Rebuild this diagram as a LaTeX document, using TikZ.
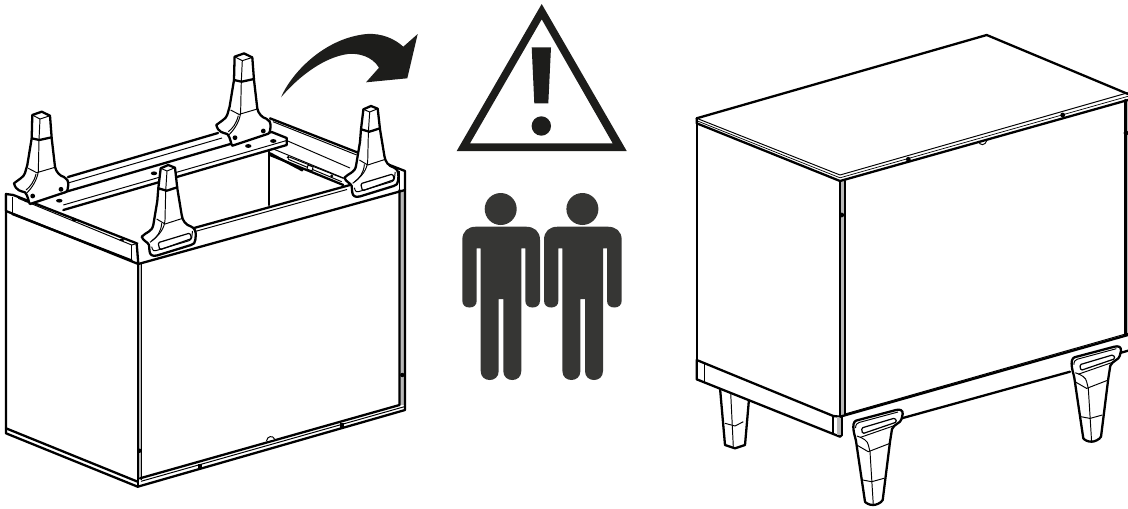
\documentclass[tikz,border=0pt]{standalone}

\definecolor{signblack}{HTML}{1D1D1B}
\definecolor{figuregray}{HTML}{363634}
\tikzset{
    heavyline/.style={line width=1.3pt, line join=round, line cap=round},
    lightline/.style={line width=0.55pt, line join=round},
    slotline/.style={line width=0.7pt, rounded corners=0.8pt, line join=round},
    holedot/.style={fill=black, draw=none},
}

\begin{document}
\begin{tikzpicture}[x=0.02cm, y=-0.02cm]
        \useasboundingbox (0,0) rectangle (1128,508);

        % skrin nohama nahoru
        \fill[gray!55] (137.5,264) rectangle (141.5,480);
        \fill[gray!55] (399.5,190) rectangle (405,405);
        \draw[heavyline] (6,194) -- (6,433.3) -- (137.7,486.7) -- (405,410) -- (405,171) -- (270,118.3);
        \draw[heavyline] (6,428.3) -- (137.7,481.7);
        \draw[heavyline] (137.7,264) -- (137.7,486.7);
        \draw[lightline] (141.5,264) -- (141.5,480);
        \draw[heavyline] (399.5,190) -- (399.5,405) -- (140,478.3);
        \draw[lightline] (141,481.3) -- (405,406.5);
        \fill[holedot] (198,464) rectangle (202,468.5);
        \fill[holedot] (340.3,423) rectangle (344.3,427.5);
        \filldraw[lightline, fill=white] (266.5,441) .. controls (267,436) and (273,435) .. (274.5,439);
        \fill[holedot] (139.5,450.7) circle (2.2);
        \fill[holedot] (402.3,375) circle (2.2);

        % vnitrek a lista
        \draw[heavyline] (269,151.7) -- (269,205);
        \draw[lightline] (270,118.3) -- (270,133.3) -- (350,168);
        \draw[lightline] (273,121.7) -- (356.7,155);
        \draw[heavyline] (270,155) -- (343.3,185);
        \draw[lightline] (271.7,148.3) -- (348.3,180);
        \draw[lightline] (290,157.3) -- (343.3,178.3);
        \draw[lightline] (288.3,159.3) -- (341.7,181.7);
        \draw[heavyline] (270,153.3) -- (301.7,170);
        \foreach \sx/\sy in {288.3/157.3, 311.7/168.3, 331.7/176, 302/170}
            \fill[holedot] (\sx,\sy) circle (1.6);
        \draw[lightline, fill=white] (308,165) -- (313,167) -- (312,171) -- (307,169) -- cycle;

        % zadni prkno
        \draw[heavyline] (68,177) -- (218,133);
        \draw[lightline] (68,183) -- (222,138);
        \draw[heavyline, fill=white] (40,199.3) -- (271.7,132) -- (286.7,138) -- (286.7,145) -- (63.3,210);
        \draw[lightline] (286.7,140.5) -- (63.3,205);
        \foreach \hx/\hy in {59.3/200.7, 154/173.3, 248.3/146, 273.3/141}
            \fill[holedot] (\hx,\hy) ellipse (3.2 and 1.9);

        % okraje
        \draw[heavyline] (194,228) -- (350,185);
        \draw[lightline] (195,231.5) -- (347,189.5);
        \draw[heavyline, fill=white] (13.3,195) -- (136.7,243.3) -- (138.3,264) -- (6,211) -- (6,194) -- cycle;
        \draw[lightline] (18.3,198.3) -- (131.7,245);
        \draw[lightline] (12.3,196.7) -- (12.3,215);
        \draw[lightline] (131.7,245) -- (131.7,260) ;
        \draw[heavyline] (12.3,214) -- (131.7,260.5);
        \draw[lightline] (131.7,245) -- (138.3,243);
        \draw[heavyline] (138.3,264) -- (405,190);
        \draw[lightline] (399.5,171) -- (399.5,190);
        \foreach \hx/\hy in {26.7/201, 74/220, 121.7/240}
            \fill[holedot] (\hx,\hy) ellipse (2.4 and 1.2);

        % zadni nohy
        \foreach \dx/\dy in {0/0, 202.3/-58.3} {
            \begin{scope}[shift={(\dx,\dy)}]
                \draw[heavyline, fill=white] (32.3,115) -- (41.7,111.7) -- (50,115.7) -- (51.7,138.3) -- (55,166.7)
                    .. controls (56,172) and (60,176) .. (64,177) .. controls (67,178) and (68.3,181) .. (68.3,185)
                    -- (67.5,190) -- (66,192) -- (30,204)
                    .. controls (28.5,203) and (28.5,196) .. (25,192.3)
                    .. controls (21,191) and (16,191) .. (14,183.3)
                    .. controls (18,180) and (24,177) .. (25,173) -- (27.3,165) -- (31.7,138.3) -- cycle;
                \draw[lightline] (32.3,115) -- (40,119) -- (50,115.7);
                \draw[heavyline] (31.7,138.3) -- (39.3,140) -- (51.7,137.3);
                \draw[lightline] (40,119) -- (39,140) -- (38.3,171.7) .. controls (37,180) and (32,188) .. (26.7,193);
                \draw[lightline] (28.3,168.3) -- (36.7,172.7) -- (55,167.3);
                \draw[lightline] (36,174) .. controls (34,182) and (30,187) .. (26,190);
                \fill[holedot] (61,189.3) circle (2.4);
                \fill[holedot] (32.7,196) circle (2.4);
            \end{scope}
        }

        % predni nohy
        \foreach \dx/\dy in {0/0, 202.7/-59} {
            \begin{scope}[shift={(\dx,\dy)}]
                \draw[heavyline, fill=white] (160.7,168.3) -- (168.3,165) -- (175,167.7) -- (177.3,188.3) -- (181.7,215)
                    .. controls (182.5,221) and (186,225) .. (191,226.5) .. controls (195,228) and (196,232) .. (195.7,236)
                    -- (195.3,240) .. controls (195,243) and (194,244) .. (191,245) -- (157,255.5)
                    .. controls (152,256.5) and (150,255) .. (149.5,251) -- (149,245)
                    .. controls (148,242) and (143,241) .. (141.7,236.7)
                    .. controls (146,232) and (152,232) .. (153.3,225) -- (157.3,201) -- (158.3,188.3) -- cycle;
                \draw[lightline] (160.7,168.3) -- (167,171) -- (175,167.7);
                \draw[heavyline] (158.3,188.3) -- (166.7,190.7) -- (177.3,187.3);
                \draw[lightline] (167,171) -- (165.7,190.7) -- (165,220) .. controls (164.5,228) and (160,235) .. (150,242.3);
                \draw[lightline] (156.7,219) -- (165,224) -- (182.7,218.3);
                \draw[lightline] (161.7,223.3) .. controls (161,232) and (157,237) .. (151.7,241);
                \draw[lightline, rounded corners=1.5pt] (151.7,246.7) -- (153,251.5) -- (191.5,240) -- (192.5,231);
                \draw[slotline] (158,242.7) -- (190,233) -- (191.6,238.6) -- (159.8,249.8) -- cycle;
            \end{scope}
        }

        % sipka
        \fill[signblack] (281,97.3) .. controls (292,72) and (325,38) .. (366.7,34)
            .. controls (382,33) and (395,39) .. (403.3,46.7) -- (417.7,34) -- (407.3,78.3) -- (366,82.3) -- (379,67.7)
            .. controls (372,56) and (358,53) .. (348,54) .. controls (325,57) and (300,75) .. (281,97.3) -- cycle;

        % vystraha
        \fill[signblack, even odd rule] (541.7,4) -- (626.7,151) -- (456.7,151) -- cycle
            (541.7,19.3) -- (470,143.3) -- (612.7,143.3) -- cycle;
        \fill[signblack] (531.7,47.3) -- (551,47.3) -- (548.3,103.3) -- (534.3,103.3) -- cycle;
        \fill[signblack] (541.3,126) circle (9.7);

        % dva lide
        \foreach \px in {0, 81.7} {
            \begin{scope}[shift={(\px,0)}]
                \fill[figuregray] (500.7,209) circle (16);
                \fill[figuregray] (476,226.7) -- (526,226.7) .. controls (534,226.7) and (540,231) .. (540,240)
                    -- (540,300.5) .. controls (540,305) and (537,307.5) .. (532.7,307.5)
                    .. controls (528,307.5) and (525.3,305) .. (525.3,300.5) -- (525.3,248.3) -- (521.3,248.3)
                    -- (521.3,371) .. controls (521.3,377) and (517,380) .. (512.3,380)
                    .. controls (507.6,380) and (503.3,377) .. (503.3,371) -- (503.3,299) -- (498.7,299)
                    -- (498.7,371) .. controls (498.7,377) and (494.4,380) .. (489.7,380)
                    .. controls (485,380) and (480.7,377) .. (480.7,371) -- (480.7,248.3) -- (476.7,248.3)
                    -- (476.7,300.5) .. controls (476.7,305) and (474,307.5) .. (469.5,307.5)
                    .. controls (465,307.5) and (462.3,305) .. (462.3,300.5) -- (462.3,240)
                    .. controls (462.3,231) and (468,226.7) .. (476,226.7) -- cycle;
            \end{scope}
        }

        % skrin na nohach, zadni noha
        \draw[heavyline, fill=white] (720,388) -- (725,445) -- (735,448.3) -- (745,445) -- (749,399);
        \draw[lightline] (725,423.3) -- (735,426) -- (743.3,421.7);
        \draw[lightline] (730.7,393) -- (733.3,446.7);

        % korpus
        \fill[gray!55] (840.5,181) rectangle (845,416);
        \fill[gray!55] (1125,100) rectangle (1128,335);
        \draw[heavyline, fill=white] (696.7,360) -- (833.3,416) -- (840,416.7) -- (841.7,435) -- (840,436.7) -- (696.7,379.3) -- cycle;
        \fill[gray!55] (837,417) rectangle (841,435);
        \draw[lightline] (704,363.3) -- (704,381.7);
        \draw[heavyline] (833.3,416) -- (833.3,432.7);
        \draw[heavyline] (841.7,417) -- (841.7,435);
        \draw[heavyline] (696.7,123.3) -- (696.7,379.3);
        \draw[heavyline] (840,181) -- (840,416);
        \draw[heavyline] (845,181) -- (845,415);
        \draw[heavyline] (840,416.7) -- (1128,335);
        \draw[lightline] (845,414) -- (1128,333.3);
        \draw[heavyline] (1125.5,100) -- (1125.5,335);
        \draw[heavyline] (901.7,418.3) -- (1070,371.7);
        \draw[heavyline] (1120,353) -- (1128,350.7);

        % deska
        \draw[heavyline] (696.7,118.3) -- (986.7,35) -- (1128,94);
        \draw[heavyline] (696.7,118.3) -- (696.7,123.3) -- (840,181) -- (1128,100);
        \draw[lightline] (696.7,118.3) -- (840,175) -- (1128,92.7);
        \draw[lightline, line width=0.4pt] (696.7,120.7) -- (840,177.8) -- (1128,96.3);
        \foreach \hx/\hy in {908.3/159.3, 1062.7/115, 841.7/215, 1126/133}
            \fill[holedot] (\hx,\hy) circle (2.4);
        \draw[lightline] (978.5,141) .. controls (979.5,146) and (985.5,146) .. (987,140);

        % nohy vpredu
        \foreach \dx/\dy in {0/0, 218.3/-63.3} {
            \begin{scope}[shift={(\dx,\dy)}]
                \draw[heavyline, fill=white] (853.3,427) .. controls (853.3,422) and (855,420.5) .. (858.3,420)
                    -- (896,410) .. controls (900,409) and (903,410) .. (902.7,414) -- (901.5,419)
                    .. controls (901,423) and (894,424) .. (892,429) -- (890,441.7) -- (882.7,500)
                    .. controls (881,503) and (876,505) .. (873.3,505) .. controls (869,505) and (866,503) .. (865,501.7)
                    -- (858.3,456.7) -- (856,441) .. controls (855,436) and (853.5,433) .. (853.3,427) -- cycle;
                \draw[lightline] (855.5,428) .. controls (855.7,424.5) and (857,423) .. (859,422.5) -- (898,412);
                \draw[slotline] (861.5,428) -- (895,418) -- (896.8,422) -- (862.5,433.7) -- cycle;
                \draw[lightline] (860,437.5) -- (896,425);
                \draw[lightline] (857,436) .. controls (863,438) and (868,441) .. (868.3,445);
                \draw[lightline] (856.7,445) -- (868.3,451.7) -- (890,443.3);
                \draw[lightline] (862.7,480) -- (871.7,481.7) -- (884,478.3);
                \draw[lightline] (868.3,445) -- (870,451.7) -- (873.3,505);
            \end{scope}
        }

    \end{tikzpicture}
\end{document}
